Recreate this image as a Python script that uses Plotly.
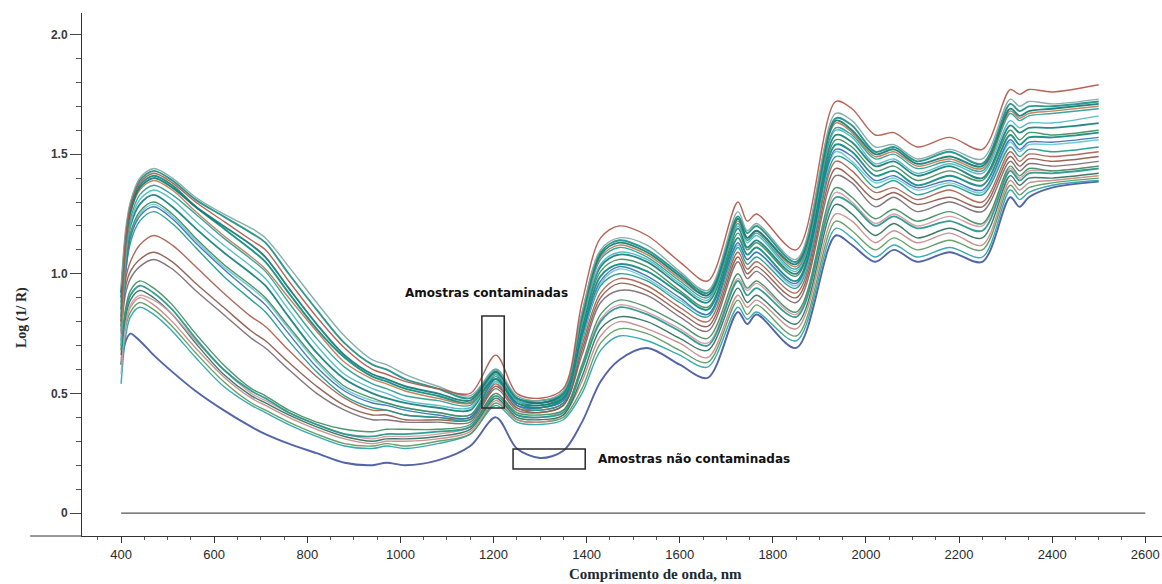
import plotly.graph_objects as go

# ---------------- data ----------------
VIS_WL = [400, 410, 420, 440, 470, 510, 560, 620, 680, 710, 760, 820, 880, 940, 970, 1010, 1080, 1150]
NIR_WL = [1205, 1250, 1300, 1350, 1390, 1430, 1470, 1530, 1600, 1660, 1725, 1745, 1765, 1850,
          1935, 1970, 2020, 2060, 2110, 2180, 2250, 2310, 2330, 2350, 2400, 2500]

ZERO_WL = [400, 2600]
ZERO_LOG = [0, 0]

Y_TICKS = [0, 0.5, 1.0, 1.5, 2.0]
Y_TICK_TEXT = ["0", "0.5", "1.0", "1.5", "2.0"]

A1_VIS = [0.95, 1.19, 1.30, 1.40, 1.44, 1.40, 1.32, 1.25, 1.19, 1.15, 1.03, 0.88, 0.74, 0.64, 0.62, 0.58, 0.53, 0.49]
A1_NIR = [0.60, 0.49, 0.47, 0.51, 0.84, 1.10, 1.15, 1.12, 1.01, 0.93, 1.26, 1.18, 1.21, 1.06, 1.67, 1.64, 1.53, 1.54, 1.48, 1.52, 1.48, 1.73, 1.70, 1.72, 1.71, 1.73]
A2_VIS = [0.85, 1.15, 1.29, 1.39, 1.43, 1.39, 1.31, 1.24, 1.17, 1.13, 1.00, 0.85, 0.71, 0.62, 0.60, 0.56, 0.52, 0.48]
A2_NIR = [0.60, 0.48, 0.47, 0.50, 0.83, 1.09, 1.14, 1.10, 1.00, 0.92, 1.24, 1.17, 1.20, 1.05, 1.65, 1.62, 1.51, 1.53, 1.47, 1.51, 1.46, 1.71, 1.68, 1.70, 1.70, 1.72]
A3_VIS = [0.80, 1.14, 1.28, 1.38, 1.42, 1.38, 1.30, 1.22, 1.14, 1.10, 0.97, 0.82, 0.69, 0.60, 0.58, 0.55, 0.52, 0.50]
A3_NIR = [0.66, 0.50, 0.48, 0.52, 0.88, 1.15, 1.20, 1.16, 1.05, 0.97, 1.30, 1.22, 1.25, 1.10, 1.72, 1.69, 1.58, 1.59, 1.53, 1.57, 1.52, 1.77, 1.75, 1.77, 1.76, 1.79]
A4_VIS = [0.92, 1.14, 1.26, 1.36, 1.40, 1.36, 1.28, 1.20, 1.12, 1.07, 0.94, 0.79, 0.66, 0.58, 0.56, 0.53, 0.50, 0.47]
A4_NIR = [0.59, 0.48, 0.46, 0.50, 0.82, 1.08, 1.13, 1.09, 0.99, 0.91, 1.23, 1.15, 1.18, 1.04, 1.64, 1.60, 1.50, 1.52, 1.46, 1.49, 1.45, 1.69, 1.66, 1.68, 1.69, 1.71]
A5_VIS = [0.75, 1.10, 1.25, 1.35, 1.39, 1.35, 1.26, 1.16, 1.07, 1.02, 0.90, 0.76, 0.63, 0.56, 0.54, 0.51, 0.48, 0.46]
A5_NIR = [0.59, 0.48, 0.46, 0.50, 0.81, 1.07, 1.12, 1.08, 0.98, 0.91, 1.22, 1.15, 1.18, 1.03, 1.63, 1.59, 1.49, 1.51, 1.45, 1.48, 1.44, 1.68, 1.65, 1.67, 1.68, 1.70]
A6_VIS = [0.88, 1.11, 1.23, 1.33, 1.37, 1.33, 1.25, 1.15, 1.06, 1.01, 0.88, 0.73, 0.61, 0.54, 0.52, 0.49, 0.47, 0.45]
A6_NIR = [0.59, 0.48, 0.46, 0.49, 0.80, 1.06, 1.11, 1.07, 0.97, 0.90, 1.21, 1.14, 1.17, 1.02, 1.61, 1.58, 1.48, 1.50, 1.44, 1.47, 1.43, 1.67, 1.64, 1.66, 1.67, 1.69]
A7_VIS = [0.70, 1.06, 1.21, 1.31, 1.35, 1.31, 1.22, 1.12, 1.03, 0.98, 0.85, 0.70, 0.58, 0.52, 0.50, 0.47, 0.45, 0.44]
A7_NIR = [0.58, 0.47, 0.46, 0.49, 0.79, 1.04, 1.09, 1.06, 0.96, 0.89, 1.20, 1.13, 1.16, 1.01, 1.60, 1.57, 1.46, 1.48, 1.42, 1.46, 1.42, 1.64, 1.61, 1.63, 1.63, 1.66]
A8_VIS = [0.82, 1.08, 1.20, 1.29, 1.33, 1.28, 1.19, 1.09, 1.00, 0.95, 0.82, 0.67, 0.56, 0.50, 0.48, 0.46, 0.44, 0.43]
A8_NIR = [0.58, 0.47, 0.45, 0.49, 0.78, 1.03, 1.08, 1.05, 0.95, 0.88, 1.19, 1.11, 1.14, 1.00, 1.58, 1.55, 1.45, 1.47, 1.41, 1.45, 1.40, 1.62, 1.59, 1.61, 1.61, 1.63]
A9_VIS = [0.78, 1.04, 1.17, 1.26, 1.30, 1.25, 1.15, 1.04, 0.95, 0.90, 0.78, 0.64, 0.53, 0.48, 0.46, 0.44, 0.42, 0.41]
A9_NIR = [0.57, 0.46, 0.45, 0.48, 0.77, 1.01, 1.06, 1.03, 0.93, 0.86, 1.17, 1.10, 1.13, 0.99, 1.56, 1.53, 1.43, 1.45, 1.39, 1.43, 1.39, 1.60, 1.56, 1.59, 1.58, 1.60]
A10_VIS = [0.72, 1.01, 1.15, 1.24, 1.28, 1.23, 1.13, 1.02, 0.92, 0.87, 0.75, 0.61, 0.51, 0.46, 0.45, 0.43, 0.41, 0.40]
A10_NIR = [0.56, 0.45, 0.44, 0.47, 0.74, 0.97, 1.03, 0.99, 0.90, 0.83, 1.13, 1.06, 1.09, 0.96, 1.52, 1.49, 1.39, 1.41, 1.36, 1.39, 1.35, 1.56, 1.52, 1.55, 1.55, 1.57]
A11_VIS = [0.80, 1.01, 1.13, 1.22, 1.26, 1.21, 1.11, 0.99, 0.89, 0.84, 0.72, 0.59, 0.49, 0.44, 0.43, 0.41, 0.40, 0.39]
A11_NIR = [0.55, 0.45, 0.43, 0.46, 0.72, 0.95, 1.00, 0.97, 0.88, 0.82, 1.11, 1.04, 1.07, 0.94, 1.49, 1.46, 1.36, 1.39, 1.33, 1.37, 1.33, 1.53, 1.49, 1.52, 1.51, 1.53]
E1_VIS = [0.90, 1.16, 1.27, 1.37, 1.41, 1.37, 1.28, 1.19, 1.10, 1.05, 0.92, 0.77, 0.65, 0.57, 0.55, 0.52, 0.49, 0.46]
E1_NIR = [0.56, 0.46, 0.44, 0.48, 0.75, 0.99, 1.04, 1.01, 0.92, 0.85, 1.15, 1.08, 1.11, 0.97, 1.54, 1.51, 1.41, 1.43, 1.37, 1.41, 1.37, 1.58, 1.54, 1.57, 1.57, 1.59]
E3_VIS = [0.76, 1.03, 1.16, 1.25, 1.29, 1.24, 1.14, 1.03, 0.94, 0.89, 0.77, 0.63, 0.52, 0.47, 0.46, 0.44, 0.42, 0.41]
E3_NIR = [0.55, 0.45, 0.44, 0.47, 0.73, 0.96, 1.02, 0.98, 0.89, 0.83, 1.12, 1.06, 1.09, 0.95, 1.51, 1.47, 1.38, 1.40, 1.35, 1.38, 1.34, 1.55, 1.51, 1.54, 1.54, 1.56]
B1_VIS = [0.80, 0.98, 1.05, 1.12, 1.16, 1.12, 1.03, 0.92, 0.82, 0.78, 0.68, 0.57, 0.48, 0.43, 0.43, 0.41, 0.40, 0.40]
B1_NIR = [0.54, 0.44, 0.43, 0.46, 0.70, 0.92, 0.98, 0.95, 0.86, 0.80, 1.09, 1.02, 1.05, 0.92, 1.47, 1.43, 1.34, 1.36, 1.31, 1.35, 1.30, 1.51, 1.47, 1.50, 1.49, 1.51]
B2_VIS = [0.78, 0.95, 1.01, 1.06, 1.09, 1.05, 0.96, 0.86, 0.76, 0.72, 0.63, 0.53, 0.45, 0.41, 0.41, 0.39, 0.39, 0.39]
B2_NIR = [0.53, 0.44, 0.42, 0.45, 0.68, 0.90, 0.96, 0.93, 0.84, 0.78, 1.07, 1.00, 1.03, 0.90, 1.44, 1.40, 1.31, 1.34, 1.29, 1.32, 1.28, 1.49, 1.45, 1.48, 1.47, 1.49]
B3_VIS = [0.76, 0.92, 0.98, 1.03, 1.06, 1.02, 0.93, 0.83, 0.73, 0.69, 0.60, 0.50, 0.43, 0.39, 0.39, 0.38, 0.38, 0.38]
B3_NIR = [0.52, 0.43, 0.42, 0.45, 0.66, 0.88, 0.93, 0.91, 0.82, 0.76, 1.05, 0.98, 1.01, 0.88, 1.41, 1.38, 1.28, 1.32, 1.26, 1.30, 1.26, 1.47, 1.43, 1.46, 1.45, 1.47]
C1_VIS = [0.70, 0.86, 0.93, 0.97, 0.94, 0.87, 0.75, 0.62, 0.52, 0.49, 0.43, 0.38, 0.35, 0.34, 0.35, 0.35, 0.35, 0.37]
C1_NIR = [0.50, 0.42, 0.41, 0.43, 0.62, 0.83, 0.89, 0.86, 0.79, 0.73, 1.00, 0.94, 0.97, 0.84, 1.36, 1.32, 1.23, 1.27, 1.22, 1.26, 1.21, 1.45, 1.41, 1.44, 1.43, 1.45]
C2_VIS = [0.68, 0.84, 0.91, 0.95, 0.92, 0.85, 0.73, 0.60, 0.51, 0.48, 0.42, 0.37, 0.33, 0.32, 0.33, 0.33, 0.34, 0.36]
C2_NIR = [0.49, 0.41, 0.40, 0.42, 0.60, 0.80, 0.86, 0.83, 0.76, 0.70, 0.97, 0.91, 0.94, 0.82, 1.32, 1.29, 1.20, 1.24, 1.19, 1.22, 1.18, 1.43, 1.39, 1.42, 1.42, 1.44]
E2_VIS = [0.58, 0.79, 0.87, 0.91, 0.89, 0.83, 0.72, 0.60, 0.50, 0.47, 0.42, 0.37, 0.33, 0.31, 0.32, 0.32, 0.33, 0.36]
E2_NIR = [0.50, 0.41, 0.40, 0.43, 0.61, 0.81, 0.87, 0.84, 0.77, 0.71, 0.98, 0.93, 0.96, 0.83, 1.34, 1.30, 1.21, 1.25, 1.20, 1.24, 1.20, 1.44, 1.40, 1.43, 1.43, 1.45]
C3_VIS = [0.66, 0.82, 0.89, 0.93, 0.90, 0.83, 0.71, 0.58, 0.49, 0.46, 0.41, 0.36, 0.32, 0.30, 0.31, 0.31, 0.32, 0.35]
C3_NIR = [0.48, 0.40, 0.39, 0.41, 0.57, 0.77, 0.82, 0.80, 0.73, 0.68, 0.94, 0.88, 0.91, 0.79, 1.29, 1.25, 1.16, 1.21, 1.15, 1.19, 1.15, 1.41, 1.37, 1.40, 1.40, 1.42]
C4_VIS = [0.64, 0.80, 0.86, 0.90, 0.87, 0.80, 0.69, 0.57, 0.48, 0.45, 0.40, 0.35, 0.31, 0.29, 0.30, 0.30, 0.31, 0.34]
C4_NIR = [0.47, 0.39, 0.38, 0.41, 0.55, 0.74, 0.80, 0.77, 0.71, 0.65, 0.91, 0.86, 0.89, 0.77, 1.25, 1.22, 1.13, 1.18, 1.13, 1.17, 1.12, 1.39, 1.35, 1.38, 1.39, 1.41]
C5_VIS = [0.62, 0.78, 0.84, 0.88, 0.85, 0.78, 0.67, 0.55, 0.46, 0.43, 0.38, 0.33, 0.29, 0.28, 0.29, 0.28, 0.30, 0.33]
C5_NIR = [0.46, 0.39, 0.38, 0.40, 0.52, 0.71, 0.77, 0.75, 0.68, 0.63, 0.89, 0.83, 0.87, 0.74, 1.22, 1.18, 1.10, 1.15, 1.10, 1.14, 1.10, 1.37, 1.33, 1.36, 1.38, 1.40]
C6_VIS = [0.54, 0.74, 0.82, 0.86, 0.83, 0.76, 0.65, 0.53, 0.45, 0.42, 0.37, 0.32, 0.28, 0.27, 0.28, 0.27, 0.29, 0.33]
C6_NIR = [0.45, 0.38, 0.37, 0.39, 0.50, 0.68, 0.74, 0.72, 0.66, 0.61, 0.86, 0.81, 0.84, 0.72, 1.19, 1.15, 1.07, 1.12, 1.07, 1.11, 1.07, 1.35, 1.31, 1.34, 1.37, 1.39]
D_VIS = [0.62, 0.72, 0.75, 0.72, 0.66, 0.59, 0.51, 0.43, 0.36, 0.33, 0.29, 0.25, 0.21, 0.20, 0.21, 0.20, 0.22, 0.28]
D_NIR = [0.40, 0.27, 0.23, 0.26, 0.38, 0.55, 0.64, 0.69, 0.62, 0.565, 0.84, 0.79, 0.83, 0.69, 1.16, 1.12, 1.05, 1.10, 1.05, 1.09, 1.05, 1.32, 1.28, 1.32, 1.36, 1.385]

SERIES = [
    ("D", D_VIS, D_NIR), ("C6", C6_VIS, C6_NIR), ("C5", C5_VIS, C5_NIR), ("C4", C4_VIS, C4_NIR),
    ("C3", C3_VIS, C3_NIR), ("E2", E2_VIS, E2_NIR), ("C2", C2_VIS, C2_NIR), ("C1", C1_VIS, C1_NIR),
    ("B3", B3_VIS, B3_NIR), ("B2", B2_VIS, B2_NIR), ("B1", B1_VIS, B1_NIR),
    ("A11", A11_VIS, A11_NIR), ("E3", E3_VIS, E3_NIR), ("A10", A10_VIS, A10_NIR), ("A9", A9_VIS, A9_NIR),
    ("A8", A8_VIS, A8_NIR), ("A7", A7_VIS, A7_NIR), ("E1", E1_VIS, E1_NIR), ("A6", A6_VIS, A6_NIR),
    ("A5", A5_VIS, A5_NIR), ("A4", A4_VIS, A4_NIR), ("A2", A2_VIS, A2_NIR),
    ("A1", A1_VIS, A1_NIR), ("A3", A3_VIS, A3_NIR),
]

# ---------------- styles ----------------
COLORS = {
    "A1": "#7fa8a4", "A2": "#1f8f86", "A3": "#b0584a", "A4": "#137a73", "A5": "#c07a55",
    "A6": "#2a9d96", "A7": "#4fb8c0", "A8": "#167f7a", "A9": "#3d8c5c", "A10": "#3b6fb5",
    "A11": "#1c9a8c", "B1": "#a8604f", "B2": "#8c5a4a", "B3": "#7a6a70", "C1": "#3f8f5f",
    "C2": "#23958b", "C3": "#2f6f5a", "C4": "#c48a8a", "C5": "#5a9a60", "C6": "#2aa3a8",
    "D": "#45589e", "E1": "#0f8a80", "E2": "#d49aa6", "E3": "#6cc7d0",
}
WIDTHS = {"D": 1.9, "A2": 1.9, "A4": 1.9, "A8": 1.8, "C2": 1.8, "E1": 1.9}

fig = go.Figure()

fig.add_trace(go.Scatter(x=ZERO_WL, y=ZERO_LOG, mode="lines",
                         line=dict(color="#555555", width=1.2), hoverinfo="skip"))

for name, vis, nir in SERIES:
    fig.add_trace(go.Scatter(
        x=VIS_WL + NIR_WL, y=vis + nir, mode="lines", name=name,
        line=dict(color=COLORS[name], width=WIDTHS.get(name, 1.4), shape="spline", smoothing=0.9),
        opacity=0.92, hoverinfo="skip"))

axis_col = "#333333"
fig.update_layout(
    width=1162, height=584,
    margin=dict(l=82, r=0, t=13, b=48),
    paper_bgcolor="white", plot_bgcolor="white",
    showlegend=False,
    xaxis=dict(
        range=[316, 2636], showgrid=False, zeroline=False,
        showline=True, linecolor=axis_col, linewidth=1,
        tickmode="linear", tick0=400, dtick=200,
        ticks="outside", ticklen=6, tickcolor=axis_col, tickwidth=1,
        tickfont=dict(family="Liberation Sans Narrow, Arial Narrow, Liberation Sans, sans-serif",
                      size=13, color="#2a2a2a"),
        minor=dict(tickmode="linear", tick0=400, dtick=50, ticks="outside",
                   ticklen=3, tickcolor="#555555", showgrid=False),
    ),
    yaxis=dict(
        range=[-0.096, 2.09], showgrid=False, zeroline=False,
        showline=True, linecolor=axis_col, linewidth=1,
        tickmode="array", tickvals=Y_TICKS,
        ticktext=["<b>%s</b>" % t for t in Y_TICK_TEXT],
        ticks="outside", ticklen=11, tickcolor="#444444", tickwidth=1,
        tickfont=dict(family="Liberation Sans, Arial, sans-serif", size=12, color="#3a3a3a"),
        minor=dict(tickmode="linear", tick0=0, dtick=0.1, ticks="outside",
                   ticklen=5, tickcolor="#555555", showgrid=False),
    ),
    shapes=[
        dict(type="rect", xref="x", yref="y", x0=1175, x1=1223, y0=0.439, y1=0.824,
             line=dict(color="#2b2b2b", width=1.5)),
        dict(type="rect", xref="x", yref="y", x0=1242, x1=1397, y0=0.184, y1=0.268,
             line=dict(color="#2b2b2b", width=1.5)),
        dict(type="line", xref="paper", yref="paper", x0=-0.048, x1=0, y0=0, y1=0,
             line=dict(color=axis_col, width=1)),
    ],
    annotations=[
        dict(text="<b>Amostras contaminadas</b>", x=1184, y=0.92, xref="x", yref="y",
             showarrow=False, xanchor="center", yanchor="middle",
             font=dict(family="DejaVu Sans, sans-serif", size=12, color="#111111")),
        dict(text="<b>Amostras não contaminadas</b>", x=1420, y=0.226, xref="x", yref="y",
             showarrow=False, xanchor="left", yanchor="middle",
             font=dict(family="DejaVu Sans, sans-serif", size=12, color="#111111")),
        dict(text="<b>Log (1/ R)</b>", x=22, y=318, xref="paper", yref="paper",
             showarrow=False, textangle=-90, xanchor="center", yanchor="middle",
             font=dict(family="Liberation Serif, Times New Roman, serif", size=14, color="#1f2a2e")),
        dict(text="<b>Comprimento de onda, nm</b>", x=655, y=574, xref="paper", yref="paper",
             showarrow=False, xanchor="center", yanchor="middle",
             font=dict(family="Liberation Serif, Times New Roman, serif", size=15, color="#1a2a30")),
    ],
)

# convert the pixel-placed axis title annotations to paper coordinates
plot_l, plot_t, plot_w, plot_h = 82, 13, 1162 - 82, 584 - 13 - 48
for ann in fig.layout.annotations[2:]:
    px, py = ann.x, ann.y
    ann.x = (px - plot_l) / plot_w
    ann.y = 1 - (py - plot_t) / plot_h

fig.write_html("out.html", config={"displayModeBar": False},
               post_script="document.body.style.margin='0px';document.body.style.overflow='hidden';")
